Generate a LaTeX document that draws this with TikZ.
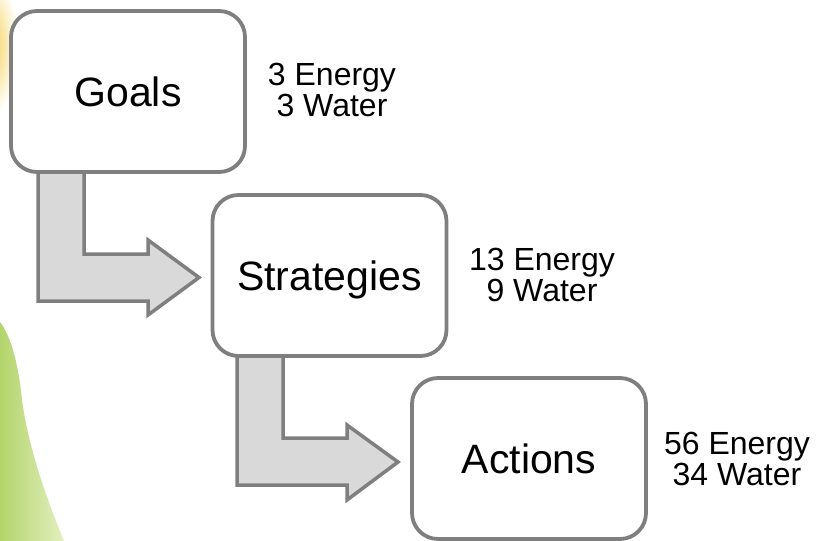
\documentclass[tikz,border=0pt]{standalone}
\usepackage{fontspec}
\setmainfont{Liberation Sans}
\usetikzlibrary{shapes.geometric}
\definecolor{boxgray}{HTML}{7F7F7F}
\definecolor{arrowfill}{HTML}{D9D9D9}
\definecolor{leafA}{HTML}{B3D46B}
\definecolor{leafB}{HTML}{E2EFBF}
\definecolor{sunY}{HTML}{F4D25A}
\tikzset{
  stagebox/.style={draw=boxgray, line width=3.8pt, fill=white, rounded corners=26pt,
    minimum width=234pt, minimum height=161pt, inner sep=0pt,
    font=\fontsize{41}{41}\selectfont, text depth=0pt},
  countlabel/.style={align=center, inner sep=0pt, anchor=north,
    font=\fontsize{32}{31}\selectfont},
  bentarrow/.style={draw=boxgray, line width=3.5pt, fill=arrowfill, line join=miter}
}
\begin{document}
\begin{tikzpicture}[x=1pt,y=-1pt]
\useasboundingbox (0,0) rectangle (820,541);
% background decoration
\shade[inner color=sunY, outer color=white] (-8,45) ellipse (26pt and 70pt);
\shade[left color=leafA, right color=leafB]
  (0,322) .. controls (10,335) and (18,360) .. (22,400)
  .. controls (28,445) and (45,495) .. (64,541) -- (0,541) -- cycle;
% arrows
\draw[bentarrow] (38,170) -- (84,170) -- (84,254) -- (148,254) -- (148,240)
  -- (199,277.5) -- (148,315) -- (148,301) -- (38,301) -- cycle;
\draw[bentarrow] (237,355) -- (283,355) -- (283,438) -- (347,438) -- (347,425)
  -- (398,462) -- (347,500) -- (347,485) -- (237,485) -- cycle;
% boxes
\node[stagebox] (goals) at (128,91.5) {Goals};
\node[stagebox] (strat) at (329.5,275.5) {Strategies};
\node[stagebox] (acts) at (529,458.5) {Actions};
% labels
\node[countlabel] (lg) at (332,63) {3 Energy\\3 Water};
\node[countlabel] (ls) at (542,248) {13 Energy\\9 Water};
\node[countlabel] (la) at (737,432) {56 Energy\\34 Water};
\end{tikzpicture}
\end{document}
